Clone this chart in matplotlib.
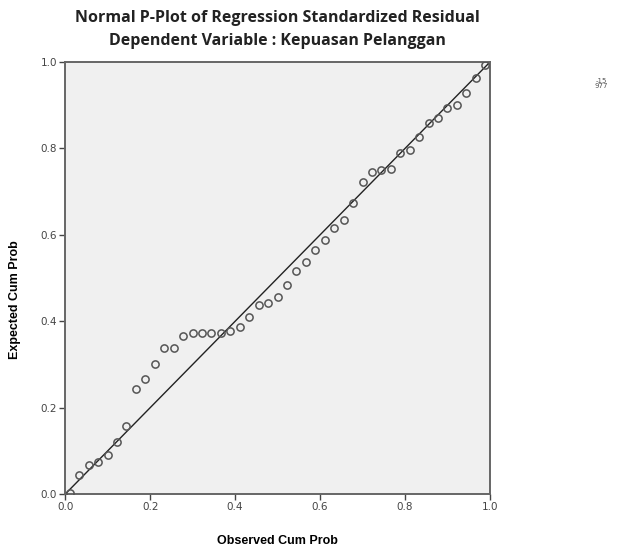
import matplotlib
matplotlib.use("Agg")
import matplotlib.pyplot as plt

# Normal P-P plot values
observed_cum_prob = [0.011, 0.033, 0.056, 0.078, 0.100, 0.122, 0.144, 0.167, 0.189,
                     0.211, 0.233, 0.256, 0.278, 0.300, 0.322, 0.344, 0.367, 0.389,
                     0.411, 0.433, 0.456, 0.478, 0.500, 0.522, 0.544, 0.567, 0.589,
                     0.611, 0.633, 0.656, 0.678, 0.700, 0.722, 0.744, 0.767, 0.789,
                     0.811, 0.833, 0.856, 0.878, 0.900, 0.922, 0.944, 0.967, 0.989]
expected_cum_prob = [0.002, 0.044, 0.067, 0.074, 0.090, 0.120, 0.157, 0.243, 0.266,
                     0.301, 0.338, 0.338, 0.366, 0.373, 0.373, 0.373, 0.373, 0.377,
                     0.387, 0.410, 0.438, 0.442, 0.456, 0.484, 0.516, 0.537, 0.565,
                     0.588, 0.616, 0.634, 0.674, 0.722, 0.745, 0.750, 0.752, 0.789,
                     0.796, 0.826, 0.859, 0.870, 0.894, 0.900, 0.928, 0.963, 0.993]
tick_values = [0.0, 0.2, 0.4, 0.6, 0.8, 1.0]

fig = plt.figure(figsize=(6.21, 5.49), dpi=100)
ax = fig.add_axes([0.105, 0.100, 0.684, 0.787])
ax.set_facecolor("#f0f0f0")

# reference line and points
ax.plot([0, 1], [0, 1], color="#222222", linewidth=1.0, zorder=2)
ax.plot(observed_cum_prob, expected_cum_prob, linestyle="none", marker="o",
        markersize=5.2, markerfacecolor="none", markeredgecolor="#555555",
        markeredgewidth=1.1, zorder=3)

ax.set_xlim(0, 1)
ax.set_ylim(0, 1)
ax.set_xticks(tick_values)
ax.set_yticks(tick_values)
ax.set_xticklabels([f"{v:.1f}" for v in tick_values])
ax.set_yticklabels([f"{v:.1f}" for v in tick_values])
ax.tick_params(direction="out", length=4, width=1, color="#444444",
               labelsize=7.5, labelcolor="#444444", pad=2)
for s in ax.spines.values():
    s.set_color("#666666")
    s.set_linewidth(1.4)

ax.set_xlabel("Observed Cum Prob", fontsize=9, fontweight="bold",
              family="Liberation Sans")
ax.set_ylabel("Expected Cum Prob", fontsize=9, fontweight="bold",
              family="Liberation Sans")
ax.xaxis.set_label_coords(0.5, -0.095)
ax.yaxis.set_label_coords(-0.105, 0.45)

fig.text(0.447, 0.967, "Normal P-Plot of Regression Standardized Residual",
         ha="center", va="center", fontsize=11.5, fontweight="bold",
         family="Open Sans", color="#222222")
fig.text(0.447, 0.926, "Dependent Variable : Kepuasan Pelanggan",
         ha="center", va="center", fontsize=11.5, fontweight="bold",
         family="Open Sans", color="#222222")

fig.text(0.968, 0.848, "-15\n977", ha="center", va="center", fontsize=5,
         color="#555555", linespacing=0.9)

fig.savefig("out.png", dpi=100)
